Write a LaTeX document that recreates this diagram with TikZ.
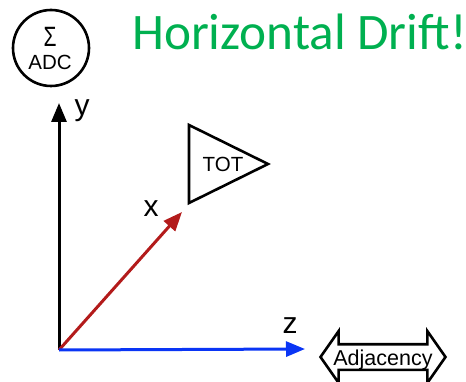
\documentclass[tikz,border=0pt]{standalone}
\usepackage{fontspec}
\setmainfont{Liberation Sans}
\newfontfamily\titlefont{Carlito}
\definecolor{TitleGreen}{HTML}{00B050}
\definecolor{AxisRed}{HTML}{B31B1B}
\definecolor{AxisBlue}{HTML}{0A35F5}
\usetikzlibrary{arrows.meta, positioning, shapes.arrows}
\tikzset{
  axis/.style={line width=3pt, -{Triangle[length=19pt, width=15pt]}},
  axislabel/.style={font=\fontsize{30}{30}\selectfont, anchor=base, inner sep=0pt},
  symbol/.style={font=\fontsize{20.5}{20.5}\selectfont, inner sep=0pt}
}

\begin{document}
\begin{tikzpicture}[x=1pt, y=-1pt]
  \useasboundingbox (0,0) rectangle (466,382);
  % Title
  \node[anchor=base west, inner sep=0pt, text=TitleGreen, font=\titlefont\fontsize{51.2}{51.2}\selectfont] (title) at (132,49.5) {Horizontal Drift!};
  % Sum of ADC
  \node[circle, draw, line width=2.6pt, minimum size=76pt, inner sep=0pt] (adc) at (51,48) {};
  \node[symbol, yscale=1.33] (sigma) at (50,37) {\fontsize{21}{21}\selectfont Σ};
  \node[symbol] (adclabel) at (50,62) {ADC};
  % Axes
  \coordinate (origin) at (59,350);
  \coordinate (ytip) at (59,103);
  \coordinate (xtip) at (182,212);
  \coordinate (ztip) at (305,349);
  \draw[axis, black] (origin) -- (ytip);
  \draw[axis, AxisRed] (origin) -- (xtip);
  \draw[axis, AxisBlue] (origin) -- (ztip);
  \node[axislabel] (ylabel) at (82,116) {y};
  \node[axislabel] (xlabel) at (151,217) {x};
  \node[axislabel] (zlabel) at (290,333) {z};
  % TOT
  \draw[line width=2.6pt] (189,125) -- (189,203) -- (268,164) -- cycle;
  \node[symbol] (tot) at (223,164) {TOT};
  % Adjacency
  \node[double arrow, draw, line width=2.6pt, double arrow tip angle=110, double arrow head extend=13pt,
    minimum height=125pt, inner xsep=0pt, inner ysep=1.5pt, text height=18pt, text depth=2pt,
    font=\fontsize{21.5}{21.5}\selectfont] (adjacency) at (383,357) {Adjacency};
\end{tikzpicture}
\end{document}
